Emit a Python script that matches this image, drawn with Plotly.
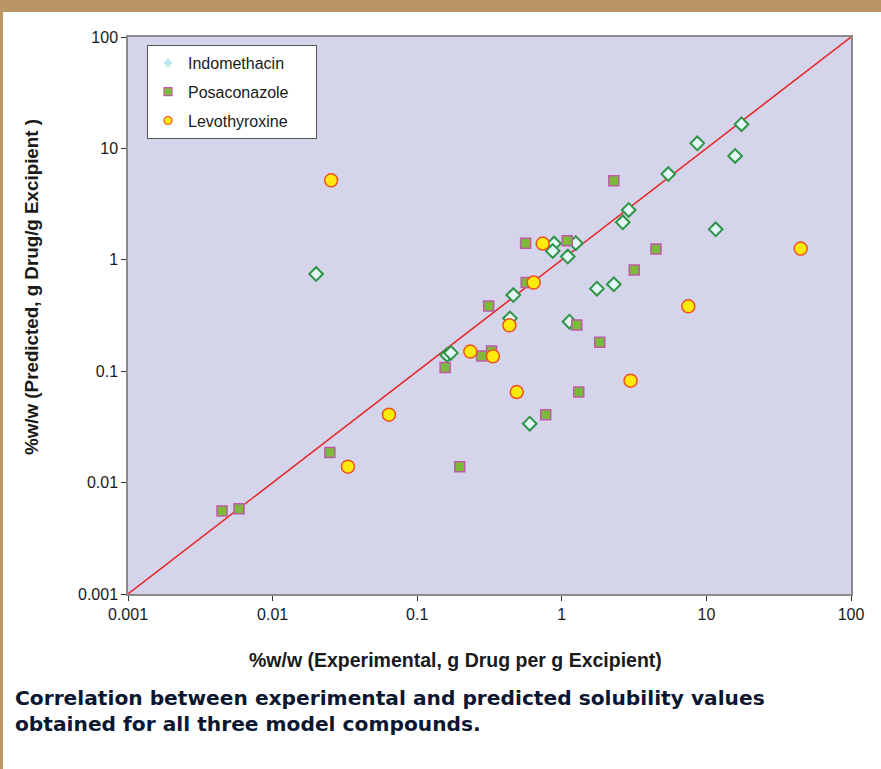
import plotly.graph_objects as go

# ---- data ----
indo_x = [0.0200, 0.161, 0.171, 0.462, 0.438, 0.884, 0.865, 1.25, 1.10, 1.13,
          0.600, 1.75, 2.29, 2.64, 2.90, 5.45, 8.65, 15.8, 17.5, 11.6]
indo_y = [0.745, 0.140, 0.146, 0.483, 0.298, 1.40, 1.20, 1.41, 1.07, 0.278,
          0.0338, 0.551, 0.603, 2.17, 2.80, 5.89, 11.1, 8.55, 16.5, 1.88]

posa_x = [0.00447, 0.00586, 0.0249, 0.197, 0.156, 0.279, 0.327, 0.312, 0.567,
          0.562, 1.09, 1.27, 1.83, 0.774, 1.31, 2.29, 4.48, 3.17]
posa_y = [0.00556, 0.00583, 0.0186, 0.0139, 0.108, 0.137, 0.152, 0.385, 0.624,
          1.41, 1.48, 0.260, 0.182, 0.0407, 0.065, 5.13, 1.25, 0.81]

levo_x = [0.0254, 0.0638, 0.0332, 0.233, 0.334, 0.434, 0.639, 0.738, 0.488,
          2.99, 7.50, 44.9]
levo_y = [5.17, 0.0407, 0.0139, 0.150, 0.136, 0.258, 0.624, 1.40, 0.065,
          0.0822, 0.382, 1.26]

line_xy = [0.001, 100]
tick_vals = [0.001, 0.01, 0.1, 1, 10, 100]
tick_text = ["0.001", "0.01", "0.1", "1", "10", "100"]

series_names = ["Indomethacin", "Posaconazole", "Levothyroxine"]

FONT = "Liberation Sans, Arial, sans-serif"

fig = go.Figure()

# identity line
fig.add_trace(go.Scatter(x=line_xy, y=line_xy, mode="lines",
                         line=dict(color="#E8282A", width=1.5),
                         showlegend=False, hoverinfo="skip"))

indo_marker = dict(symbol="diamond", size=10.5, color="#E4F6F8",
                   line=dict(color="#2E9446", width=2))
posa_marker = dict(symbol="square", size=10, color="#7CBA3A",
                   line=dict(color="#C05AA8", width=1.5))
levo_marker = dict(symbol="circle", size=13, color="#FFEA10",
                   line=dict(color="#F0501E", width=1.5))

fig.add_trace(go.Scatter(x=indo_x, y=indo_y, mode="markers", name=series_names[0],
                         marker=indo_marker, showlegend=False))
fig.add_trace(go.Scatter(x=posa_x, y=posa_y, mode="markers", name=series_names[1],
                         marker=posa_marker, showlegend=False))
fig.add_trace(go.Scatter(x=levo_x, y=levo_y, mode="markers", name=series_names[2],
                         marker=levo_marker, showlegend=False))

# legend entries (smaller markers as in the reference legend)
legend_markers = [
    dict(symbol="diamond", size=7, color="#BFE6EE", line=dict(color="#BFE6EE", width=0)),
    dict(symbol="square", size=8, color="#7CBA3A", line=dict(color="#C05AA8", width=1.2)),
    dict(symbol="circle", size=8, color="#FFEA10", line=dict(color="#F0501E", width=1.2)),
]
PAD = "\u00a0" * 5
for i, (nm, mk) in enumerate(zip(series_names, legend_markers)):
    fig.add_trace(go.Scatter(x=[None], y=[None], mode="markers", name=nm + PAD,
                             marker=mk, legendgroup=f"g{i}", showlegend=True))

# page decorations: tan band at top and tan stripe on the left
fig.add_shape(type="rect", xref="paper", yref="paper",
              x0=-128 / 723, x1=753 / 723, y0=(594 - 12) / 557, y1=594 / 557,
              fillcolor="#B99664", line=dict(width=0), layer="below")
fig.add_shape(type="rect", xref="paper", yref="paper",
              x0=-128 / 723, x1=-125 / 723, y0=-175 / 557, y1=594 / 557,
              fillcolor="#B99664", line=dict(width=0), layer="below")

# axis titles
fig.add_annotation(text="<b>%w/w (Experimental, g Drug per g Excipient)</b>",
                   xref="paper", yref="paper", x=(455 - 128) / 723, y=(594 - 660) / 557,
                   showarrow=False, font=dict(family=FONT, size=19.5, color="#1A1A1A"),
                   xanchor="center", yanchor="middle")
fig.add_annotation(text="<b>%w/w (Predicted, g Drug/g Excipient )</b>",
                   xref="paper", yref="paper", x=(31 - 128) / 723, y=(594 - 287) / 557,
                   showarrow=False, textangle=-90,
                   font=dict(family=FONT, size=18.8, color="#1A1A1A"),
                   xanchor="center", yanchor="middle")

# caption
fig.add_annotation(text="<b>Correlation between experimental and predicted solubility values<br>"
                        "obtained for all three model compounds.</b>",
                   xref="paper", yref="paper", x=(13 - 128) / 723, y=(594 - 684) / 557,
                   showarrow=False, align="left", xanchor="left", yanchor="top",
                   font=dict(family="DejaVu Sans, sans-serif", size=20.2, color="#0B1631"))

axis_common = dict(type="log", range=[-3, 2], tickvals=tick_vals, ticktext=tick_text,
                   showgrid=False, zeroline=False, ticks="outside", ticklen=5,
                   tickcolor="#333333", tickfont=dict(family=FONT, size=16, color="#1A1A1A"),
                   showline=True, linecolor="#8A8A8A", linewidth=1.5, mirror=True)

fig.update_layout(
    width=881, height=769,
    margin=dict(l=128, r=30, t=37, b=175),
    paper_bgcolor="white",
    plot_bgcolor="#D4D4EA",
    xaxis=dict(**axis_common),
    yaxis=dict(**axis_common),
    showlegend=True,
    legend=dict(x=(147 - 128) / 723, y=(594 - 45) / 557, xanchor="left", yanchor="top",
                bgcolor="white", bordercolor="#555555", borderwidth=1,
                font=dict(family=FONT, size=16, color="#1A1A1A"),
                tracegroupgap=5, itemwidth=30),
)

fig.write_html("out.html")
